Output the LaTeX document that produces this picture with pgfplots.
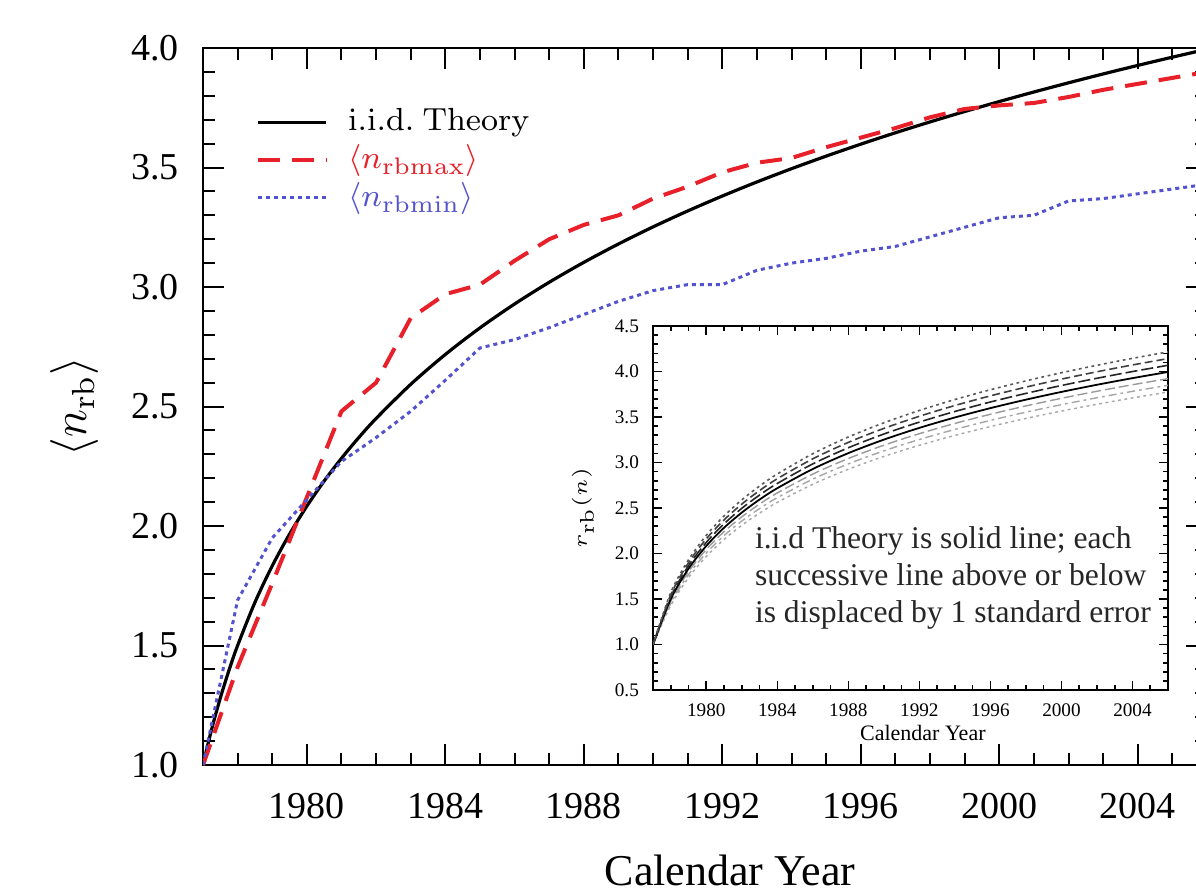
\documentclass[border=0pt]{standalone}
\usepackage[no-math]{fontspec}
\setmainfont{Liberation Serif}
\usepackage{pgfplots}
\usepackage{pgfplotstable}
\pgfplotsset{compat=1.18}
\definecolor{rbred}{HTML}{E8202A}
\definecolor{rbblue}{HTML}{5353CF}

\pgfplotstableread{
year H
1977 1.0000
1977.25 1.1498
1977.5 1.2804
1977.75 1.3961
1978 1.5000
1978.5 1.6804
1979 1.8333
1979.5 1.9661
1980 2.0833
1980.5 2.1883
1981 2.2833
1981.5 2.3701
1982 2.4500
1983 2.5929
1984 2.7179
1985 2.8290
1986 2.9290
1987 3.0199
1988 3.1032
1989 3.1801
1990 3.2516
1991 3.3182
1992 3.3807
1993 3.4396
1994 3.4951
1995 3.5477
1996 3.5977
1997 3.6454
1998 3.6908
1999 3.7343
2000 3.7760
2001 3.8160
2002 3.8544
2003 3.8915
2004 3.9272
2005 3.9617
2006 3.9950
}\theory

\pgfplotstableread{
year max min
1977 1.00 1.00
1978 1.41 1.69
1979 1.76 1.95
1980 2.12 2.11
1981 2.48 2.27
1982 2.60 2.37
1983 2.87 2.48
1984 2.97 2.61
1985 3.01 2.745
1986 3.11 2.78
1987 3.20 2.83
1988 3.26 2.885
1989 3.30 2.94
1990 3.37 2.985
1991 3.42 3.01
1992 3.48 3.01
1993 3.52 3.07
1994 3.54 3.10
1995 3.585 3.12
1996 3.625 3.15
1997 3.665 3.17
1998 3.71 3.21
1999 3.745 3.25
2000 3.76 3.29
2001 3.77 3.30
2002 3.795 3.36
2003 3.825 3.37
2004 3.85 3.39
2005 3.875 3.41
2006 3.90 3.43
}\obs

\pgfplotstableread{
year m3 m2 m1 H p1 p2 p3
1977 1.0000 1.0000 1.0000 1.0000 1.0000 1.0000 1.0000
1978 1.4286 1.4524 1.4762 1.5000 1.5238 1.5476 1.5714
1979 1.7352 1.7679 1.8006 1.8333 1.8660 1.8987 1.9314
1980 1.9672 2.0059 2.0446 2.0833 2.1220 2.1607 2.1994
1981 2.1540 2.1971 2.2402 2.2833 2.3264 2.3695 2.4126
1982 2.3102 2.3568 2.4034 2.4500 2.4966 2.5432 2.5898
1983 2.4444 2.4939 2.5434 2.5929 2.6424 2.6919 2.7414
1984 2.5619 2.6139 2.6659 2.7179 2.7699 2.8219 2.8739
1986 2.7613 2.8172 2.8731 2.9290 2.9849 3.0408 3.0967
1988 2.9259 2.9850 3.0441 3.1032 3.1623 3.2214 3.2805
1990 3.0668 3.1284 3.1900 3.2516 3.3132 3.3748 3.4364
1992 3.1893 3.2531 3.3169 3.3807 3.4445 3.5083 3.5721
1994 3.2980 3.3637 3.4294 3.4951 3.5608 3.6265 3.6922
1996 3.3955 3.4629 3.5303 3.5977 3.6651 3.7325 3.7999
1998 3.4844 3.5532 3.6220 3.6908 3.7596 3.8284 3.8972
2000 3.5654 3.6356 3.7058 3.7760 3.8462 3.9164 3.9866
2002 3.6402 3.7116 3.7830 3.8544 3.9258 3.9972 4.0686
2004 3.7097 3.7822 3.8547 3.9272 3.9997 4.0722 4.1447
2006 3.7745 3.8480 3.9215 3.9950 4.0685 4.1420 4.2155
}\bands

\begin{document}
\begin{tikzpicture}
\begin{axis}[
  at={(0pt,0pt)}, anchor=south west,
  scale only axis, width=251pt, height=179.25pt,
  xmin=1977, xmax=2006, ymin=1, ymax=4,
  xtick={1980,1984,1988,1992,1996,2000,2004},
  minor xtick={1977,1978,...,2006},
  ytick={1,1.5,2,2.5,3,3.5,4},
  minor ytick={1,1.1,...,4.01},
  major tick length=5.25pt, minor tick length=3pt,
  tick style={black, line width=0.5pt},
  axis line style={line width=0.6pt},
  /pgf/number format/assume math mode=true,
  /pgf/number format/1000 sep={},
  ticklabel style={font=\fontsize{9.5}{11}\selectfont},
  yticklabel style={xshift=-2.5pt, /pgf/number format/.cd, fixed, fixed zerofill, precision=1},
  xticklabel style={yshift=-3.5pt},
  xlabel={Calendar Year},
  xlabel style={at={(axis description cs:0.525,-0.1464)}, anchor=center, font=\fontsize{11}{13}\selectfont},
  ylabel={$\langle n_{\mathrm{rb}}\rangle$},
  ylabel style={at={(axis description cs:-0.1275,0.5)}, anchor=center, font=\large},
  legend style={draw=none, fill=none, at={(axis description cs:0.04,0.939)}, anchor=north west,
    font=\fontsize{8.2}{10}\selectfont, row sep=-2pt, column sep=3pt},
  legend cell align=left,
]
\addplot[black, line width=0.8pt, smooth] table[x=year, y=H] {\theory};
\addlegendentry{$\mathrm{i.i.d.\ Theory}$}
\addplot[rbred, line width=1pt, dash pattern=on 5.5pt off 3pt] table[x=year, y=max] {\obs};
\addlegendentry{\textcolor{rbred}{$\langle n_{\mathrm{rbmax}}\rangle$}}
\addplot[rbblue, line width=0.75pt, dash pattern=on 1pt off 1pt] table[x=year, y=min] {\obs};
\addlegendentry{\textcolor{rbblue}{$\langle n_{\mathrm{rbmin}}\rangle$}}
\end{axis}

\begin{axis}[
  at={(112.5pt,18.75pt)}, anchor=south west,
  scale only axis, width=128.75pt, height=91pt,
  axis background/.style={fill=white},
  xmin=1977, xmax=2006, ymin=0.5, ymax=4.5,
  xtick={1980,1984,1988,1992,1996,2000,2004},
  minor xtick={1977,1978,...,2006},
  ytick={0.5,1,1.5,2,2.5,3,3.5,4,4.5},
  minor ytick={0.5,0.6,...,4.51},
  major tick length=2.2pt, minor tick length=1.3pt,
  tick style={black, line width=0.4pt},
  axis line style={line width=0.5pt},
  /pgf/number format/assume math mode=true,
  /pgf/number format/1000 sep={},
  yticklabel style={/pgf/number format/.cd, fixed, fixed zerofill, precision=1},
  ticklabel style={font=\fontsize{4.8}{5.5}\selectfont},
  xlabel={Calendar Year},
  xlabel style={at={(axis description cs:0.524,-0.118)}, anchor=center, font=\fontsize{5.5}{6.5}\selectfont},
  ylabel={$r_{\mathrm{rb}}(n)$},
  ylabel style={at={(axis description cs:-0.136,0.5)}, anchor=center, font=\fontsize{5.5}{6.5}\selectfont},
]
\addplot[gray!70, line width=0.35pt, smooth, dash pattern=on 0.7pt off 0.9pt] table[x=year, y=m3] {\bands};
\addplot[gray!70, line width=0.35pt, smooth, dash pattern=on 2pt off 1pt on 0.7pt off 1pt] table[x=year, y=m2] {\bands};
\addplot[gray!80, line width=0.35pt, smooth, dash pattern=on 2.5pt off 1pt] table[x=year, y=m1] {\bands};
\addplot[black, line width=0.45pt, smooth] table[x=year, y=H] {\bands};
\addplot[black!85, line width=0.4pt, smooth, dash pattern=on 3pt off 1pt] table[x=year, y=p1] {\bands};
\addplot[black!75, line width=0.4pt, smooth, dash pattern=on 2pt off 1pt] table[x=year, y=p2] {\bands};
\addplot[black!65, line width=0.4pt, smooth, dash pattern=on 0.7pt off 0.9pt] table[x=year, y=p3] {\bands};
\node[anchor=west, align=left, inner sep=0pt, font=\fontsize{7.9}{9.25}\selectfont, text=black!85]
  at (axis cs:1982.7,1.73) {i.i.d Theory is solid line; each\\successive line above or below\\is displaced by 1 standard error};
\end{axis}
\pgfresetboundingbox
\path[use as bounding box] (-50.75pt,-31.75pt) rectangle (248.25pt,191.25pt);
\end{tikzpicture}
\end{document}
